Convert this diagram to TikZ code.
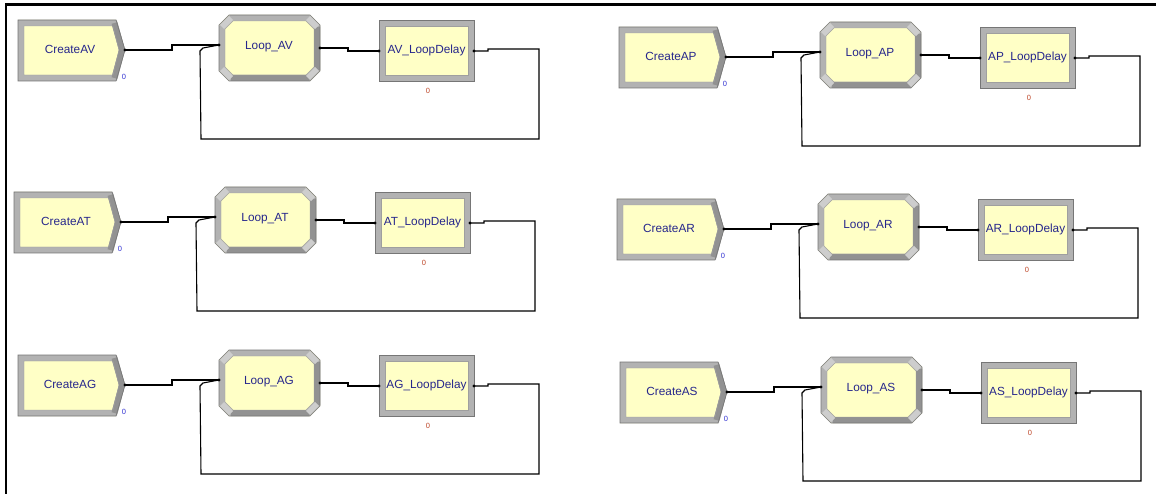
\documentclass[tikz,border=0pt]{standalone}
\usepackage{fontspec}
\setmainfont{Liberation Sans}
\usetikzlibrary{calc}
\definecolor{boxfill}{RGB}{255,255,198}
\definecolor{bevel}{RGB}{178,178,178}
\definecolor{beveldark}{RGB}{146,146,146}
\definecolor{bevellight}{RGB}{205,205,205}
\definecolor{edge}{RGB}{118,118,118}
\definecolor{labelblue}{RGB}{38,38,140}
\definecolor{countblue}{RGB}{50,50,210}
\definecolor{countred}{RGB}{190,70,40}
\tikzset{
 modtext/.style={font=\fontsize{11.8}{13}\selectfont, text=labelblue, inner sep=0pt},
 counttext/.style={font=\fontsize{7.5}{8}\selectfont, inner sep=0pt},
 bevelline/.style={line width=6pt, line join=miter},
 thinedge/.style={draw=edge, line width=0.6pt},
 inneredge/.style={draw=edge!70, line width=0.4pt},
 conn/.style={line width=1.1pt, draw=black},
 port/.style={fill=black},
}
\newcommand\armgroup[4]{%
\begin{scope}[shift={(#2,#3)}]
% Create module
\fill[boxfill] (0,0) -- (98,0) -- (107,30) -- (98,61) -- (0,61) -- cycle;
\draw[bevelline, bevel] (3,3) -- (96.5,3) -- (104,30) -- (96.5,58) -- (3,58) -- cycle;
\draw[bevelline, beveldark] (96.5,3) -- (104,30) -- (96.5,58);
\draw[thinedge] (0,0) -- (98,0) -- (107,30) -- (98,61) -- (0,61) -- cycle;
\draw[inneredge] (6,6) -- (95,6) -- (101,30) -- (95,55) -- (6,55) -- cycle;
\node[modtext] (c#1) at (52,29) {Create#4};
\node[counttext, text=countblue] (cn#1) at (106,57) {0};
% Loop module
\fill[boxfill] (211,-5) -- (292,-5) -- (302,5) -- (302,51) -- (292,61) -- (211,61) -- (201,51) -- (201,5) -- cycle;
\draw[bevelline, bevel] (213,-2) -- (290,-2) -- (299,7) -- (299,49) -- (290,58) -- (213,58) -- (204,49) -- (204,7) -- cycle;
\draw[bevelline, beveldark] (299,7) -- (299,49) -- (290,58) -- (213,58);
\draw[line width=6pt, bevellight] (204,7) -- (213,-2) (290,-2) -- (299,7) (299,49) -- (290,58) (213,58) -- (204,49);
\draw[thinedge] (211,-5) -- (292,-5) -- (302,5) -- (302,51) -- (292,61) -- (211,61) -- (201,51) -- (201,5) -- cycle;
\draw[inneredge] (215,1) -- (288,1) -- (296,9) -- (296,47) -- (288,55) -- (215,55) -- (207,47) -- (207,9) -- cycle;
\node[modtext] (l#1) at (251,27) {Loop\_#4};
% Delay module
\fill[boxfill] (361,0) rectangle (456,61);
\draw[bevelline, bevel] (364,3) rectangle (453,58);
\draw[thinedge] (361,0) rectangle (456,61);
\draw[inneredge] (367,6) rectangle (450,55);
\node[modtext] (d#1) at (408.5,30) {#4\_LoopDelay};
\node[counttext, text=countred] (dn#1) at (410,71) {0};
% ports
\coordinate (cout#1) at (107,30);
\coordinate (lin#1) at (201,25);
\coordinate (lout#1) at (302,28);
\coordinate (din#1) at (361,31);
\coordinate (dout#1) at (456,31);
\coordinate (ma#1) at (154,0);
\coordinate (mb#1) at (330,0);
\coordinate (rt#1) at (521,29);
\coordinate (rr#1) at (521,119);
\coordinate (rl#1) at (183,119);
% connectors
\draw[conn] (cout#1) -- (cout#1 -| ma#1) -- (ma#1 |- lin#1) -- (lin#1);
\draw[conn] (lout#1) -- (lout#1 -| mb#1) -- (mb#1 |- din#1) -- (din#1);
\draw[conn] (dout#1) -- (470,31) -- (470,29) -- (rt#1) -- (rr#1) -- (rl#1) -- (182,31) -- (185,28) -- (lin#1);
\fill[port] (cout#1) circle (1.6pt) (lin#1) circle (1.6pt) (lout#1) circle (1.6pt) (din#1) circle (1.6pt) (dout#1) circle (1.6pt);
\end{scope}}
\begin{document}
\begin{tikzpicture}[x=1pt, y=-1pt]
\useasboundingbox (0,0) rectangle (1156,494);
\fill[white] (0,0) rectangle (1156,494);
\draw[line width=2.6pt, line cap=butt] (6,494) -- (6,4.5) -- (1156,4.5);
\armgroup{a}{18}{20}{AV}
\armgroup{b}{14}{192}{AT}
\armgroup{c}{18}{355}{AG}
\armgroup{d}{619}{27}{AP}
\armgroup{e}{617}{199}{AR}
\armgroup{f}{620}{362}{AS}
\end{tikzpicture}
\end{document}
